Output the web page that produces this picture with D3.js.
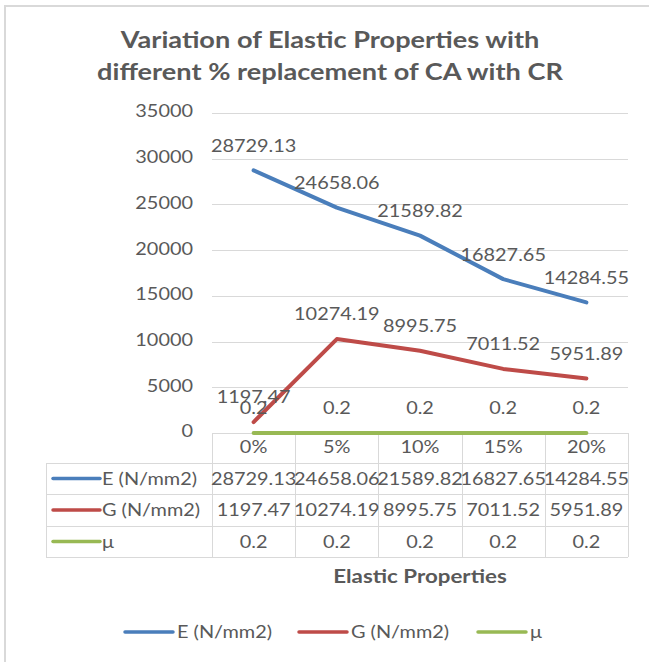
<!DOCTYPE html>
<html><head><meta charset="utf-8">
<script src="https://cdn.jsdelivr.net/npm/d3@7"></script>
<style>body{margin:0;background:#fff}text{font-family:Lato,"Open Sans",sans-serif;fill:#595959}</style>
</head><body><svg id="c" width="649" height="662"></svg>
<script>
const categories = ["0%","5%","10%","15%","20%"];
const seriesNames = ["E (N/mm2)","G (N/mm2)","μ"];
const eValues = [28729.13,24658.06,21589.82,16827.65,14284.55];
const gValues = [1197.47,10274.19,8995.75,7011.52,5951.89];
const muValues = [0.2,0.2,0.2,0.2,0.2];
const eLabels = ["28729.13","24658.06","21589.82","16827.65","14284.55"];
const gLabels = ["1197.47","10274.19","8995.75","7011.52","5951.89"];
const muLabels = ["0.2","0.2","0.2","0.2","0.2"];
const yTicks = [0,5000,10000,15000,20000,25000,30000,35000];
const titleLines = ["Variation of Elastic Properties with","different % replacement of CA with CR"];
const axisTitle = "Elastic Properties";

const colors = ["#4A7EBB","#BE4B48","#98B954"];
const SX = 1.17;
const FS = 17;
const grid = "#d9d9d9";
const svg = d3.select("#c");

function txt(x, y, s, o={}) {
  return svg.append("text")
    .attr("transform", `translate(${x},${y}) scale(${o.sx||SX},1)`)
    .attr("text-anchor", o.anchor||"middle")
    .attr("dominant-baseline","central")
    .style("font-size",(o.size||FS)+"px")
    .style("font-weight",o.bold?"bold":"normal")
    .text(s);
}

// chart border (top & left visible)
svg.append("line").attr("x1",4).attr("x2",649).attr("y1",6).attr("y2",6).attr("stroke",grid).attr("stroke-width",2);
svg.append("line").attr("x1",5).attr("x2",5).attr("y1",5).attr("y2",662).attr("stroke",grid).attr("stroke-width",2);

// title
txt(330,40,titleLines[0],{size:22,bold:true,sx:1.235});
txt(330,72,titleLines[1],{size:22,bold:true,sx:1.235});

const x = d3.scaleBand().domain(categories).range([212,628]);
const y = d3.scaleLinear().domain([0,35000]).range([433,113]);
const cx = c => x(c)+x.bandwidth()/2;

// gridlines
svg.append("g").selectAll("line").data(yTicks).join("line")
  .attr("x1",212).attr("x2",628).attr("y1",d=>Math.round(y(d))+0.5).attr("y2",d=>Math.round(y(d))+0.5)
  .attr("stroke",grid).attr("stroke-width",1);

// y axis labels
const yAxis = d3.axisLeft(y).tickValues(yTicks).tickSize(0).tickPadding(0).tickFormat(d3.format("d"));
const ya = svg.append("g").attr("transform","translate(193,0)").call(yAxis);
ya.select(".domain").remove();
ya.selectAll("text").remove();
yTicks.forEach(t => txt(193, y(t)-2, String(t), {anchor:"end"}));

// table lines
const rowY = [463,494,526,557];
rowY.forEach(r => svg.append("line").attr("x1",46).attr("x2",628).attr("y1",r+0.5).attr("y2",r+0.5).attr("stroke",grid));
svg.append("line").attr("x1",46.5).attr("x2",46.5).attr("y1",463).attr("y2",557).attr("stroke",grid);
const colEdges = categories.map(c=>x(c)).concat([x.range()[1]]);
colEdges.forEach(e => svg.append("line").attr("x1",Math.round(e)+0.5).attr("x2",Math.round(e)+0.5).attr("y1",433).attr("y2",557).attr("stroke",grid));

// header row
categories.forEach(c => txt(cx(c),447,c));

// table rows
const allVals = [eLabels,gLabels,muLabels];
allVals.forEach((vals,i) => {
  const yc = (rowY[i]+rowY[i+1])/2;
  svg.append("line").attr("x1",53).attr("x2",100).attr("y1",yc).attr("y2",yc)
    .attr("stroke",colors[i]).attr("stroke-width",3.5).attr("stroke-linecap","round");
  txt(102,yc,seriesNames[i],{anchor:"start"});
  vals.forEach((v,j) => txt(cx(categories[j]),yc,v));
});

// axis title
txt(420,576,axisTitle,{bold:true,size:18,sx:1.24});

// lines
const data = [eValues,gValues,muValues];
const line = d3.line().x((d,i)=>cx(categories[i])).y(d=>y(d));
data.forEach((vals,i) => {
  svg.append("path").datum(vals).attr("d",line).attr("fill","none")
    .attr("stroke",colors[i]).attr("stroke-width",4).attr("stroke-linecap","round").attr("stroke-linejoin","round");
});

// data labels (centered above points)
data.forEach((vals,i) => {
  vals.forEach((v,j) => txt(cx(categories[j]), y(v)-25, allVals[i][j]));
});

// legend
const legX = [125,299,478];
seriesNames.forEach((n,i) => {
  svg.append("line").attr("x1",legX[i]).attr("x2",legX[i]+48).attr("y1",632).attr("y2",632)
    .attr("stroke",colors[i]).attr("stroke-width",3.5).attr("stroke-linecap","round");
  txt(legX[i]+52,632,n,{anchor:"start"});
});
</script></body></html>
